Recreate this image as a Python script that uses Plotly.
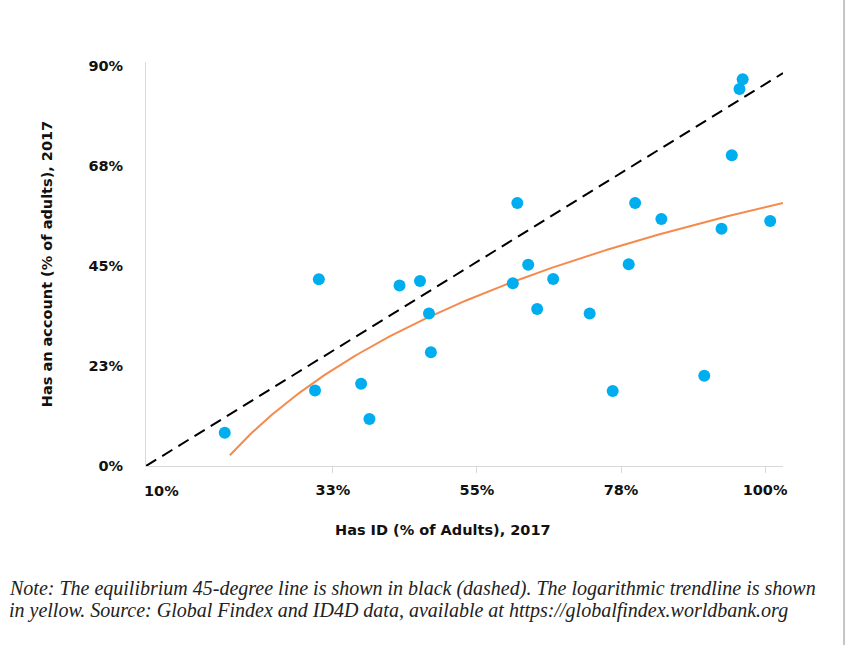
import numpy as np
import plotly.graph_objects as go

# Share of adults with an ID vs. share with an account, 2017 (percent)
has_id = [15.6, 29.7, 30.3, 36.9, 38.2, 42.9, 46.1, 47.5, 47.8, 60.6,
          61.3, 63.0, 64.4, 66.9, 72.6, 76.2, 78.7, 79.7, 83.8, 90.5,
          93.2, 94.8, 96.0, 96.5, 100.8]
has_account = [7.5, 17.0, 42.0, 18.5, 10.6, 40.6, 41.6, 34.3, 25.6, 41.1,
               59.2, 45.3, 35.3, 42.1, 34.3, 16.9, 45.4, 59.2, 55.6, 20.3,
               53.4, 69.9, 84.8, 87.0, 55.1]

# Axis extents and tick labels
x_range = [3.3, 102.8]
y_range = [0, 90.9]
x_tick_values = [32.5, 55, 77.5, 100]
x_tick_labels = ["10%", "33%", "55%", "78%", "100%"]
y_tick_values = [0, 22.5, 45, 67.5, 90]
y_tick_labels = ["0%", "23%", "45%", "68%", "90%"]

# Equilibrium line end points
equilibrium_x = [3.3, 102.8]
equilibrium_y = [0.0, 88.4]

# Logarithmic trendline: y = a * ln(x + c) + b
trend_a, trend_b, trend_c = 36.5, -112.2, 6.7
trend_start = 16.4

x_title = "Has ID (% of Adults), 2017"
y_title = "Has an account (% of adults), 2017"
note_lines = [
    "Note: The equilibrium 45-degree line is shown in black (dashed). "
    "The logarithmic trendline is shown",
    "in yellow. Source: Global Findex and ID4D data, available at "
    "https://globalfindex.worldbank.org",
]

BLUE = "#00AEEF"
ORANGE = "#F58A4E"
AXIS_GREY = "#D9D9D9"
LABEL_FONT = dict(family="DejaVu Sans", size=14.5, color="#111111", weight=700)

tx = np.linspace(trend_start, x_range[1], 200)
ty = trend_a * np.log(tx + trend_c) + trend_b

fig = go.Figure()
fig.add_trace(go.Scatter(
    x=equilibrium_x, y=equilibrium_y, mode="lines",
    line=dict(color="black", width=2, dash="12px,7px"),
    hoverinfo="skip", showlegend=False))
fig.add_trace(go.Scatter(
    x=tx, y=ty, mode="lines",
    line=dict(color=ORANGE, width=2),
    hoverinfo="skip", showlegend=False))
fig.add_trace(go.Scatter(
    x=has_id, y=has_account, mode="markers",
    marker=dict(color=BLUE, size=12, line=dict(width=0)),
    showlegend=False))

fig.update_xaxes(
    range=x_range, tickvals=x_tick_values, ticktext=x_tick_labels[1:],
    ticks="outside", ticklen=6, tickcolor=AXIS_GREY, tickwidth=1,
    showline=True, linecolor=AXIS_GREY, linewidth=1,
    showgrid=False, zeroline=False, tickfont=LABEL_FONT,
    ticklabelstandoff=5)
fig.update_yaxes(
    range=y_range, tickvals=y_tick_values, ticktext=y_tick_labels,
    ticks="", showline=True, linecolor=AXIS_GREY, linewidth=1,
    showgrid=False, zeroline=False, tickfont=LABEL_FONT,
    ticklabelstandoff=19,
    title=dict(text=y_title, font=LABEL_FONT, standoff=32))

# First x label sits at the left end of the axis
fig.add_annotation(
    x=x_range[0], y=0, xref="x", yref="paper", yanchor="top", xanchor="left",
    yshift=-15, xshift=-4, text=x_tick_labels[0], showarrow=False, font=LABEL_FONT)

# X axis title
fig.add_annotation(
    x=0.466, y=-0.158, xref="paper", yref="paper", xanchor="center",
    yanchor="middle", text=x_title, showarrow=False, font=LABEL_FONT)

for i, line in enumerate(note_lines):
    fig.add_annotation(
        x=-0.2185, y=-0.304 - i * 0.0545, xref="paper", yref="paper",
        xanchor="left", yanchor="middle", align="left", showarrow=False,
        text="<i>" + line + "</i>",
        font=dict(family="Liberation Serif", size=20, color="#222222"))

fig.add_shape(type="line", xref="paper", yref="paper",
              x0=1.0958, x1=1.0958, y0=-0.45, y1=1.16,
              line=dict(color="#8C8C8C", width=1))

fig.update_layout(
    width=849, height=645, autosize=False,
    margin=dict(l=146, r=66, t=62, b=179),
    plot_bgcolor="white", paper_bgcolor="white",
    showlegend=False)

fig.write_html("out.html")
